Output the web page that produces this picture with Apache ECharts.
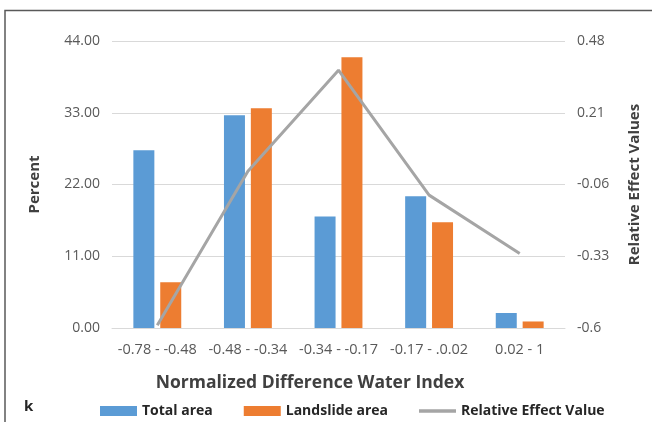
<!DOCTYPE html>
<html>
<head>
<meta charset="utf-8">
<script src="https://cdn.jsdelivr.net/npm/echarts@6/dist/echarts.min.js"></script>
<style>html,body{margin:0;padding:0;background:#fff}#c{width:652px;height:422px}</style>
</head>
<body>
<div id="c"></div>
<script>
var categories = ['-0.78 - -0.48', '-0.48 - -0.34', '-0.34 - -0.17', '-0.17 - .0.02', '0.02 - 1'];
var totalArea = [27.25, 32.6, 17.1, 20.2, 2.3];
var landslideArea = [7.0, 33.7, 41.5, 16.2, 1.0];
var relativeEffect = [-0.59, -0.01, 0.37, -0.10, -0.32];
var leftTicks = ['0.00', '11.00', '22.00', '33.00', '44.00'];
var rightTicks = ['-0.6', '-0.33', '-0.06', '0.21', '0.48'];

var FONT = 'Open Sans';
var chart = echarts.init(document.getElementById('c'));
chart.setOption({
  animation: false,
  backgroundColor: '#ffffff',
  textStyle: { fontFamily: FONT },
  grid: { left: 112, right: 87, top: 41, bottom: 94 },
  legend: {
    left: 100, top: 404, padding: 0, itemWidth: 37, itemHeight: 10, itemGap: 31, selectedMode: false,
    symbolKeepAspect: true,
    textStyle: { fontFamily: FONT, fontSize: 14, fontWeight: 'bold', color: '#262626' },
    data: [
      { name: 'Total area', icon: 'rect' },
      { name: 'Landslide area', icon: 'rect' },
      { name: 'Relative Effect Value', icon: 'path://M0,0H37V3.5H0Z' }
    ]
  },
  xAxis: {
    type: 'category', data: categories,
    axisLine: { lineStyle: { color: '#d9d9d9', width: 1 } },
    axisTick: { show: false },
    axisLabel: { interval: 0, color: '#595959', fontSize: 14.5, fontFamily: FONT, margin: 14 }
  },
  yAxis: [
    {
      type: 'value', min: 0, max: 44, interval: 11,
      name: 'Percent', nameLocation: 'middle', nameRotate: 90, nameGap: 70,
      nameTextStyle: { fontFamily: FONT, fontSize: 15, fontWeight: 'bold', color: '#404040' },
      axisLine: { show: false }, axisTick: { show: false },
      axisLabel: { color: '#595959', fontSize: 14, fontFamily: FONT, margin: 12,
        formatter: function (v, i) { return leftTicks[i]; } },
      splitLine: { lineStyle: { color: '#d9d9d9', width: 1 } }
    },
    {
      type: 'value', min: -0.6, max: 0.48, interval: 0.27, position: 'right',
      name: 'Relative Effect Values', nameLocation: 'middle', nameRotate: 90, nameGap: 62,
      nameTextStyle: { fontFamily: FONT, fontSize: 15, fontWeight: 'bold', color: '#404040' },
      axisLine: { show: false }, axisTick: { show: false },
      axisLabel: { color: '#595959', fontSize: 14, fontFamily: FONT, margin: 12,
        formatter: function (v, i) { return rightTicks[i]; } },
      splitLine: { show: false }
    }
  ],
  series: [
    { name: 'Total area', type: 'bar', data: totalArea, barWidth: 21, barGap: '28%',
      itemStyle: { color: '#5b9bd5' } },
    { name: 'Landslide area', type: 'bar', data: landslideArea, barWidth: 21,
      itemStyle: { color: '#ed7d31' } },
    { name: 'Relative Effect Value', type: 'line', yAxisIndex: 1, data: relativeEffect,
      symbol: 'none', lineStyle: { color: '#a5a5a5', width: 3 }, itemStyle: { color: '#a5a5a5' } }
  ],
  graphic: [
    { type: 'polyline', shape: { points: [[5, 422], [5, 10.5], [652, 10.5]] },
      style: { stroke: '#595959', lineWidth: 1.5, fill: null } },
    { type: 'text', x: 310, y: 383, style: { text: 'Normalized Difference Water Index',
      font: 'bold 17.5px "Open Sans"', fill: '#404040', textAlign: 'center', textVerticalAlign: 'middle' } },
    { type: 'text', x: 24, y: 407, style: { text: 'k',
      font: 'bold 15px "Open Sans"', fill: '#262626', textAlign: 'left', textVerticalAlign: 'middle' } }
  ]
});
</script>
</body>
</html>
